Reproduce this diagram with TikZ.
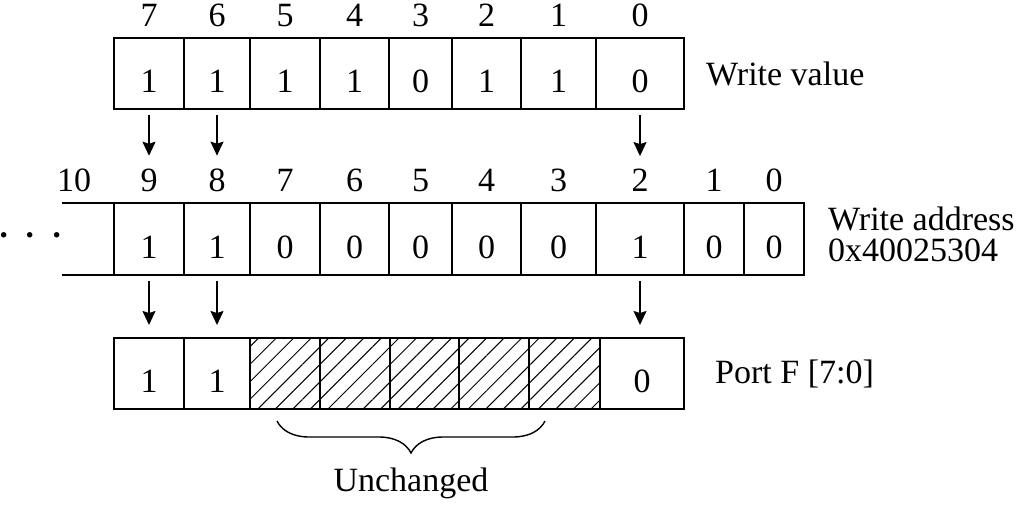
\documentclass[tikz,border=0pt]{standalone}
\usepackage{fontspec}
\setmainfont{Liberation Serif}
\usetikzlibrary{positioning, arrows.meta, patterns.meta, decorations.pathreplacing}
\tikzstyle{cell} = [rectangle, draw=black, line width=1.6pt, minimum height=71pt, inner sep=0pt, outer sep=0pt, text height=38pt, text depth=0pt]
\tikzstyle{hatched} = [cell, pattern={Lines[angle=45, distance=12.4pt, line width=1pt]}]
\tikzstyle{caption} = [inner sep=0pt, align=left]
\tikzstyle{arrow} = [line width=1.4pt, -{Stealth[length=14pt, width=13pt, inset=2pt]}, shorten <=6pt, shorten >=13pt]
\tikzstyle{brace} = [line width=1.4pt, decorate, decoration={brace, mirror, amplitude=32pt}]

\begin{document}
\begin{tikzpicture}[x=1pt, y=-1pt, font=\fontsize{34}{31}\selectfont, every label/.style={inner sep=0pt}, label distance=11pt]
    \useasboundingbox (0,0) rectangle (1018,509);

        % Write value
        \node (w7) [cell, minimum width=70pt, label=above:7] at (149,73.5) {1};
        \node (w6) [cell, minimum width=66pt, label=above:6, right=0pt of w7] {1};
        \node (w5) [cell, minimum width=70pt, label=above:5, right=0pt of w6] {1};
        \node (w4) [cell, minimum width=69pt, label=above:4, right=0pt of w5] {1};
        \node (w3) [cell, minimum width=63pt, label=above:3, right=0pt of w4] {0};
        \node (w2) [cell, minimum width=69pt, label=above:2, right=0pt of w3] {1};
        \node (w1) [cell, minimum width=75pt, label=above:1, right=0pt of w2] {1};
        \node (w0) [cell, minimum width=88pt, label=above:0, right=0pt of w1] {0};
        \node (wval) [caption, right=22pt of w0] {Write value};

        % Write address
        \node (a9) [cell, minimum width=70pt, minimum height=72pt, label={[name=n9]above:9}] at (149,239) {1};
        \node (a8) [cell, minimum width=66pt, minimum height=72pt, label={[name=n8]above:8}, right=0pt of a9] {1};
        \node (a7) [cell, minimum width=70pt, minimum height=72pt, label=above:7, right=0pt of a8] {0};
        \node (a6) [cell, minimum width=69pt, minimum height=72pt, label=above:6, right=0pt of a7] {0};
        \node (a5) [cell, minimum width=63pt, minimum height=72pt, label=above:5, right=0pt of a6] {0};
        \node (a4) [cell, minimum width=69pt, minimum height=72pt, label=above:4, right=0pt of a5] {0};
        \node (a3) [cell, minimum width=75pt, minimum height=72pt, label=above:3, right=0pt of a4] {0};
        \node (a2) [cell, minimum width=88pt, minimum height=72pt, label={[name=n2]above:2}, right=0pt of a3] {1};
        \node (a1) [cell, minimum width=60pt, minimum height=72pt, label=above:1, right=0pt of a2] {0};
        \node (a0) [cell, minimum width=60pt, minimum height=72pt, label=above:0, right=0pt of a1] {0};
        \node (n10) [anchor=base, inner sep=0pt] at (74,191) {10};
        \node (dots) [inner sep=0pt, font=\fontsize{46}{46}\selectfont] at (30.5,242) {\textperiodcentered\hspace{11pt}\textperiodcentered\hspace{11pt}\textperiodcentered};
        \node (waddr) [caption, right=24pt of a0, yshift=5pt] {Write address\\0x40025304};
        \draw [line width=1.6pt] (a9.north west) -- ++(-52,0);
        \draw [line width=1.6pt] (a9.south west) -- ++(-52,0);

        % Port F
        \node (p7) [cell, minimum width=70pt] at (149,373.5) {1};
        \node (p6) [cell, minimum width=66pt, right=0pt of p7] {1};
        \node (p5) [hatched, minimum width=70pt, right=0pt of p6] {};
        \node (p4) [hatched, minimum width=70pt, right=0pt of p5] {};
        \node (p3) [hatched, minimum width=69pt, right=0pt of p4] {};
        \node (p2) [hatched, minimum width=70pt, right=0pt of p3] {};
        \node (p1) [hatched, minimum width=71pt, right=0pt of p2] {};
        \node (p0) [cell, minimum width=84pt, right=0pt of p1] {0};
        \node (port) [caption, right=31pt of p0] {Port F [7:0]};

        % Unchanged bits
        \coordinate (bl) at (277,421);
        \coordinate (br) at (545,421);
        \draw [brace] (bl) -- node (unch) [caption, below=46pt] {Unchanged} (br);

        % Arrows
        \draw [arrow] (w7.south) -- (n9.north);
        \draw [arrow] (w6.south) -- (n8.north);
        \draw [arrow] (w0.south) -- (n2.north);
        \draw [arrow] (a9.south) -- (a9.south |- p7.north);
        \draw [arrow] (a8.south) -- (a8.south |- p6.north);
        \draw [arrow] (a2.south) -- (a2.south |- p0.north);
    \end{tikzpicture}
\end{document}
